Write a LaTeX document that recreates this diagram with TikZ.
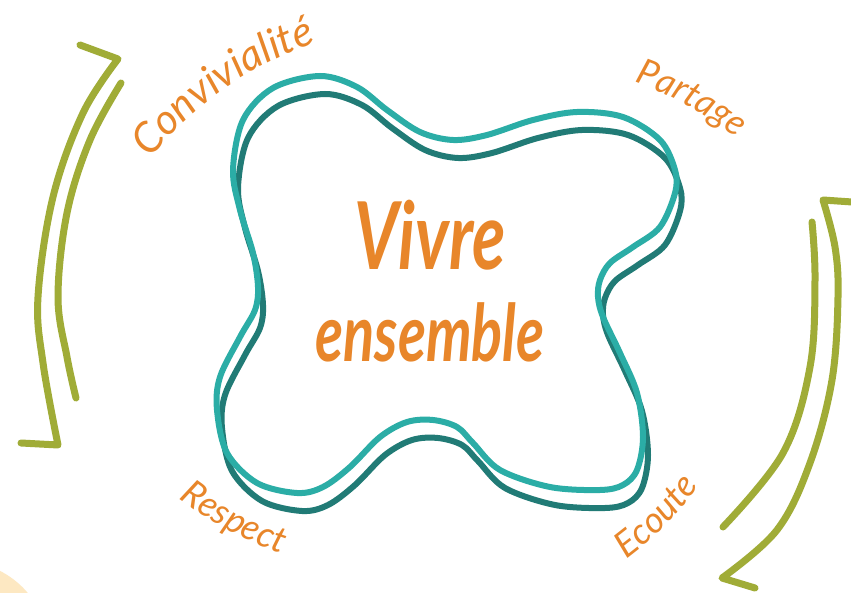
\documentclass[tikz,border=0pt]{standalone}
\usepackage{fontspec}
\setmainfont{Lato}
\usetikzlibrary{decorations.text}
\definecolor{labor}{HTML}{E8862A}
\definecolor{tealL}{HTML}{2BADA6}
\definecolor{tealD}{HTML}{217B76}
\definecolor{leaf}{HTML}{A0AC37}
\definecolor{pale}{HTML}{FDE8C2}
\tikzset{
  bracket/.style={draw=leaf, line width=7pt, line cap=round, line join=round},
  blobL/.style={draw=tealL, line width=6pt},
  blobD/.style={draw=tealD, line width=6pt},
  maintext/.style={text=labor, font=\fontsize{72}{80}\selectfont\bfseries\itshape, anchor=base, inner sep=0pt},
}
\begin{document}
\begin{tikzpicture}[x=1pt,y=1pt]
\useasboundingbox (0,0) rectangle (851,592);
\fill[white] (0,0) rectangle (851,592);
\begin{scope}
\clip (0,0) rectangle (851,592);
\fill[pale] (-40,-58) circle[radius=88.6];
\end{scope}
% blobs
\def\blobpath{plot[smooth cycle, tension=0.55] coordinates {
(675,399) (660,365) (633,345) (610,329) (600,312) (598,295) (603,275) (620,239) (637,199) (643,155) (637,122) (623,107) (600,102) (550,105) (500,122) (473,149) (457,165) (433,172) (407,170) (380,155) (350,125) (323,105) (297,99) (257,109) (227,139) (217,182) (220,215) (240,255) (255,282) (258,305) (253,339) (240,382) (233,422) (243,472) (273,504) (320,516) (357,505) (387,482) (420,460) (453,452) (487,457) (533,472) (577,480) (623,475) (660,452) (675,422)}}
\draw[blobD, shift={(5,-18)}] \blobpath;
\draw[blobL] \blobpath;
% brackets
\draw[bracket] (80,547) -- (118,533) -- plot[smooth, tension=0.6] coordinates {(118,533) (83,479) (53,395) (38,295) (43,229) (58,147)} -- (21,149);
\draw[bracket] plot[smooth, tension=0.6] coordinates {(121,509) (90,452) (67,379) (58,295) (67,235) (76,194)};
\draw[bracket] (852,390) -- (823,392) -- plot[smooth, tension=0.6] coordinates {(823,392) (835,345) (838,295) (832,212) (810,129) (777,62) (722,14)} -- (755,4);
\draw[bracket] plot[smooth, tension=0.6] coordinates {(812,370) (815,312) (810,225) (783,139) (723,65)};
% central text
\node[maintext] (vivre) at (430,322) {\scalebox{0.95}[1.3]{Vivre}};
\node[maintext] (ens) at (430,230) {\scalebox{0.8}[1.1]{ensemble}};
% labels
\path[decorate, decoration={text along path, text align=center,
  text={|\fontsize{42}{46}\selectfont\itshape\color{labor}|Convivialité}}]
  (427,215) ++(160:352) arc[start angle=160, end angle=90, radius=352];
\path[decorate, decoration={text along path, text align=center,
  text={|\fontsize{36}{40}\selectfont\itshape\color{labor}|Partage}}]
  (518,180) ++(84:350) arc[start angle=84, end angle=38, radius=350];
\path[decorate, decoration={text along path, text align=center,
  text={|\fontsize{36}{40}\selectfont\itshape\color{labor}|Respect}}]
  (392,371) ++(220:350) arc[start angle=220, end angle=264, radius=350];
\path[decorate, decoration={text along path, text align=center,
  text={|\fontsize{36}{40}\selectfont\itshape\color{labor}|Ecoute}}]
  (418,314) ++(-68:350) arc[start angle=-68, end angle=-22, radius=350];
\end{tikzpicture}
\end{document}
